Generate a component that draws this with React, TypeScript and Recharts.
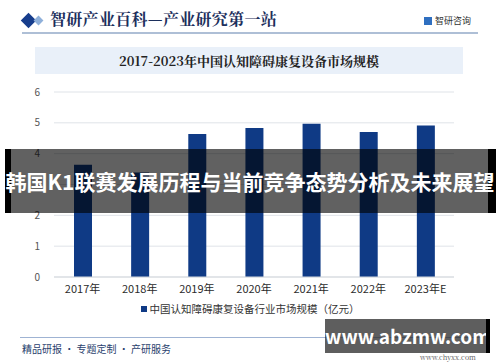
import React from 'react';
import { BarChart, Bar, XAxis, YAxis, CartesianGrid } from 'recharts';

const years = ['2017年', '2018年', '2019年', '2020年', '2021年', '2022年', '2023年E'];
const marketSize = [3.64, 3.39, 4.64, 4.83, 4.97, 4.7, 4.91];
const yTicks = [0, 1, 2, 3, 4, 5, 6];

const seriesName = '中国认知障碍康复设备行业市场规模（亿元）';
const chartTitle = '2017-2023年中国认知障碍康复设备市场规模';
const headerText = '智研产业百科—产业研究第一站';
const bannerText = '韩国K1联赛发展历程与当前竞争态势分析及未来展望';

const data = years.map((y, i) => ({ year: y, value: marketSize[i] }));

const sans = '"Noto Sans CJK SC", "Noto Sans", sans-serif';
const serif = '"Noto Serif CJK SC", "Noto Sans CJK SC", serif';
const barColor = '#0f3a85';

export default function App() {
  return (
    <div
      style={{
        position: 'absolute',
        left: 0,
        top: 0,
        width: 500,
        height: 362,
        background: '#fff',
        overflow: 'hidden',
        fontFamily: sans,
      }}
    >
      {/* header */}
      <div style={{ position: 'absolute', left: 23, top: 15, width: 11, height: 11, background: '#173d8c', transform: 'rotate(45deg)' }} />
      <div style={{ position: 'absolute', left: 35, top: 17, width: 7, height: 7, background: '#8fb0da', transform: 'rotate(45deg)' }} />
      <div
        style={{
          position: 'absolute',
          left: 50,
          top: 8,
          fontFamily: serif,
          fontWeight: 700,
          fontSize: 16,
          color: '#1c2f5c',
          lineHeight: '22px',
          letterSpacing: 0.3,
        }}
      >
        {headerText}
      </div>
      <div style={{ position: 'absolute', left: 424, top: 17, width: 8, height: 8, background: '#2f6fc0' }} />
      <div style={{ position: 'absolute', left: 435, top: 14, fontSize: 9, color: '#333', lineHeight: '14px' }}>智研咨询</div>
      <div style={{ position: 'absolute', left: 22, top: 32, width: 456, height: 2, background: '#aebfd6' }} />

      {/* title box */}
      <div
        style={{
          position: 'absolute',
          left: 35,
          top: 47,
          width: 428,
          height: 27,
          background: '#e9f0f9',
          textAlign: 'center',
          lineHeight: '27px',
          fontFamily: serif,
          fontWeight: 700,
          fontSize: 13,
          color: '#222',
        }}
      >
        {chartTitle}
      </div>

      <div style={{ position: 'absolute', left: 0, top: 0 }}>
        <BarChart width={500} height={362} data={data} margin={{ top: 92, right: 46, bottom: 55, left: 0 }}>
          <CartesianGrid vertical={false} stroke="#dfe3e8" />
          <XAxis
            dataKey="year"
            height={30}
            axisLine={{ stroke: '#d5d9de' }}
            tickLine={false}
            tickMargin={2}
            tick={{ fill: '#2b2b2b', fontSize: 11, fontFamily: sans }}
            interval={0}
          />
          <YAxis
            width={54}
            domain={[0, 6]}
            ticks={yTicks}
            axisLine={false}
            tickLine={false}
            tickMargin={8}
            tick={{ fill: '#555', fontSize: 10, fontFamily: sans }}
          />
          <Bar dataKey="value" name={seriesName} fill={barColor} barSize={18} isAnimationActive={false} />
        </BarChart>
      </div>

      {/* legend */}
      <div
        style={{
          position: 'absolute',
          left: 0,
          top: 300,
          width: 500,
          textAlign: 'center',
          fontSize: 10.5,
          lineHeight: '16px',
          color: '#333',
        }}
      >
        <span style={{ display: 'inline-block', width: 6, height: 6, background: barColor, marginRight: 3, verticalAlign: 'middle' }} />
        <span style={{ verticalAlign: 'middle' }}>{seriesName}</span>
      </div>

      {/* banner overlay */}
      <div style={{ position: 'absolute', left: 5, top: 149, width: 491, height: 64, background: 'rgba(0,0,0,0.62)' }} />
      <div style={{ position: 'absolute', left: 5, top: 149, width: 6, height: 64, background: '#000' }} />
      <div style={{ position: 'absolute', left: 488, top: 149, width: 8, height: 64, background: '#000' }} />
      <div
        style={{
          position: 'absolute',
          left: 0,
          top: 149,
          width: 500,
          height: 64,
          lineHeight: '64px',
          textAlign: 'center',
          color: '#fff',
          fontWeight: 700,
          fontSize: 21,
          whiteSpace: 'nowrap',
          fontFamily: sans,
        }}
      >
        {bannerText}
      </div>

      {/* footer */}
      <div style={{ position: 'absolute', left: 20, top: 337, width: 460, height: 1, background: '#9fb3d3' }} />
      <div style={{ position: 'absolute', left: 22, top: 342, fontSize: 10, color: '#2a3f6e', lineHeight: '14px' }}>
        精品研报 · 专题定制 · 产研服务
      </div>
      <div
        style={{
          position: 'absolute',
          left: 325,
          top: 319,
          width: 162,
          height: 34,
          background: 'rgba(40,40,40,0.75)',
          color: '#fff',
          fontWeight: 700,
          fontSize: 19,
          lineHeight: '34px',
          textAlign: 'center',
          fontFamily: sans,
        }}
      >
        www.abzmw.com
      </div>
      <div style={{ position: 'absolute', left: 486, top: 319, width: 4, height: 34, background: '#000' }} />
      <div style={{ position: 'absolute', left: 420, top: 353, fontSize: 7, lineHeight: '8px', color: '#555', fontFamily: serif }}>www.chyxx.com</div>
    </div>
  );
}
